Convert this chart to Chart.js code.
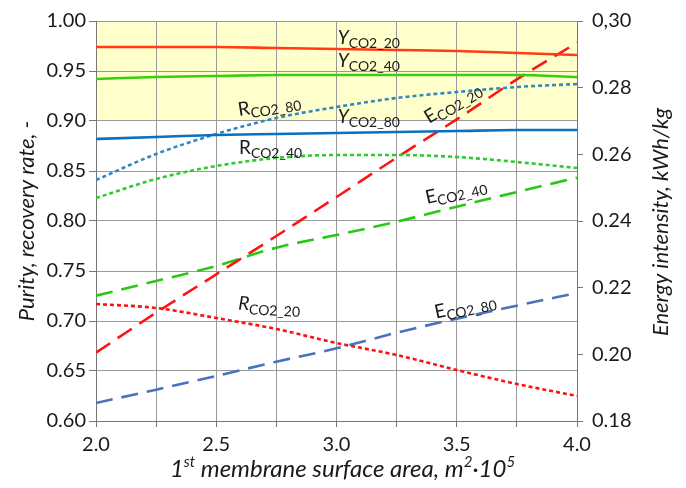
<!DOCTYPE html>
<html>
<head>
<meta charset="utf-8">
<script src="https://cdn.jsdelivr.net/npm/chart.js@4.4.0/dist/chart.umd.min.js"></script>
<style>
    html, body { margin: 0; padding: 0; background: #fff; }
</style>
</head>
<body>
<canvas id="chart" width="686" height="488"></canvas>
<script>
// membrane area, m2*10^5
const areas = [2.0, 2.25, 2.5, 2.75, 3.0, 3.25, 3.5, 3.75, 4.0];

// purity (left axis)
const yCO2_20 = [0.974, 0.974, 0.974, 0.973, 0.972, 0.971, 0.970, 0.968, 0.966];
const yCO2_40 = [0.942, 0.944, 0.945, 0.946, 0.946, 0.946, 0.946, 0.946, 0.944];
const yCO2_80 = [0.882, 0.884, 0.886, 0.887, 0.888, 0.889, 0.890, 0.891, 0.891];

// recovery rate (left axis)
const rCO2_80 = [0.841, 0.867, 0.887, 0.903, 0.914, 0.923, 0.929, 0.934, 0.937];
const rCO2_40 = [0.823, 0.842, 0.855, 0.863, 0.866, 0.866, 0.864, 0.859, 0.853];
const rCO2_20 = [0.717, 0.713, 0.703, 0.692, 0.678, 0.666, 0.651, 0.637, 0.625];

// energy intensity (right axis)
const eCO2_20 = [0.2005, 0.2125, 0.2240, 0.2355, 0.2472, 0.2590, 0.2705, 0.2825, 0.2935];
const eCO2_40 = [0.2176, 0.2220, 0.2265, 0.2320, 0.2358, 0.2398, 0.2443, 0.2487, 0.2530];
const eCO2_80 = [0.1854, 0.1894, 0.1935, 0.1978, 0.2018, 0.2065, 0.2107, 0.2146, 0.2184];

const rightTickLabels = ['0.18', '0.20', '0.22', '0.24', '0.26', '0.28', '0,30'];

// curve captions, anchored in data units
const curveLabels = [
    { main: 'Y', sub: 'CO2_20', x: 3.005, y: 0.977, angle: 0, italic: true },
    { main: 'Y', sub: 'CO2_40', x: 3.005, y: 0.9545, angle: 0, italic: true },
    { main: 'Y', sub: 'CO2_80', x: 3.005, y: 0.898, angle: 0, italic: true },
    { main: 'R', sub: 'CO2_80', x: 2.595, y: 0.905, angle: -9, italic: false },
    { main: 'R', sub: 'CO2_40', x: 2.595, y: 0.8666, angle: 0, italic: false },
    { main: 'R', sub: 'CO2_20', x: 2.59, y: 0.7114, angle: 3, italic: true },
    { main: 'E', sub: 'CO2_20', x: 3.385, y: 0.897, angle: -31, italic: false },
    { main: 'E', sub: 'CO2_40', x: 3.376, y: 0.817, angle: -13, italic: false },
    { main: 'E', sub: 'CO2_80', x: 3.414, y: 0.7025, angle: -12, italic: false }
];

const FONT = 'Lato, "Open Sans", sans-serif';
const TEXT = '#1a1a1a';

function pts(values) {
    return values.map((v, i) => ({ x: areas[i], y: v }));
}

function line(label, values, color, dash, axis) {
    return {
        label: label,
        data: pts(values),
        borderColor: color,
        backgroundColor: color,
        borderWidth: 2.6,
        borderDash: dash,
        pointRadius: 0,
        cubicInterpolationMode: 'monotone',
        yAxisID: axis
    };
}

// draws text pieces one after another, with sub/superscripts
function richWidth(ctx, parts) {
    let w = 0;
    parts.forEach(p => {
        ctx.font = (p.italic ? 'italic ' : '') + p.size + 'px ' + FONT;
        w += ctx.measureText(p.text).width;
    });
    return w;
}

function drawRich(ctx, x, y, angle, parts, center) {
    ctx.save();
    ctx.translate(x, y);
    ctx.rotate(angle * Math.PI / 180);
    ctx.fillStyle = TEXT;
    ctx.textBaseline = 'alphabetic';
    ctx.textAlign = 'left';
    let cx = center ? -richWidth(ctx, parts) / 2 : 0;
    parts.forEach(p => {
        ctx.font = (p.italic ? 'italic ' : '') + p.size + 'px ' + FONT;
        ctx.fillText(p.text, cx, p.dy || 0);
        cx += ctx.measureText(p.text).width;
    });
    ctx.restore();
}

const decorPlugin = {
    id: 'decor',
    beforeDraw(chart) {
        const ctx = chart.ctx;
        const area = chart.chartArea;
        const y = chart.scales.y;
        const top = y.getPixelForValue(1.0);
        const bottom = y.getPixelForValue(0.9);
        ctx.save();
        ctx.fillStyle = '#ffffcc';
        ctx.fillRect(area.left, top, area.right - area.left, bottom - top);
        ctx.restore();
    },
    afterDatasetsDraw(chart) {
        const ctx = chart.ctx;
        const xs = chart.scales.x;
        const ys = chart.scales.y;
        curveLabels.forEach(l => {
            drawRich(ctx, xs.getPixelForValue(l.x), ys.getPixelForValue(l.y), l.angle, [
                { text: l.main, size: 19, italic: l.italic },
                { text: l.sub, size: 14, dy: 4 }
            ]);
        });
    },
    afterDraw(chart) {
        const ctx = chart.ctx;
        const area = chart.chartArea;
        const cx = (area.left + area.right) / 2;
        const cy = (area.top + area.bottom) / 2;
        drawRich(ctx, cx + 6, 477, 0, [
            { text: '1', size: 24, italic: true },
            { text: 'st', size: 15, italic: true, dy: -10 },
            { text: ' membrane surface area, m', size: 24, italic: true },
            { text: '2', size: 15, italic: true, dy: -10 },
            { text: '\u00b710', size: 24, italic: true },
            { text: '5', size: 15, italic: true, dy: -10 }
        ], true);
        drawRich(ctx, 34, cy, -90, [
            { text: 'Purity, recovery rate, -', size: 22, italic: true }
        ], true);
        drawRich(ctx, 668, cy + 1, -90, [
            { text: 'Energy intensity, kWh/kg', size: 22, italic: true }
        ], true);
    }
};

const tickFont = { family: FONT, size: 20 };

const config = {
    type: 'line',
    data: {
        datasets: [
            line('Y CO2_20', yCO2_20, '#ff3c14', [], 'y'),
            line('Y CO2_40', yCO2_40, '#3ccc14', [], 'y'),
            line('Y CO2_80', yCO2_80, '#0a70c0', [], 'y'),
            line('R CO2_80', rCO2_80, '#2f88c4', [4, 3], 'y'),
            line('R CO2_40', rCO2_40, '#2ccc2c', [4, 3], 'y'),
            line('R CO2_20', rCO2_20, '#ff1010', [4, 3], 'y'),
            line('E CO2_20', eCO2_20, '#ff1414', [17, 9], 'y2'),
            line('E CO2_40', eCO2_40, '#28c814', [17, 9], 'y2'),
            line('E CO2_80', eCO2_80, '#4a72c0', [17, 9], 'y2')
        ]
    },
    options: {
        responsive: false,
        animation: false,
        layout: {
            padding: { top: 17, left: 0, right: 0, bottom: 0 }
        },
        plugins: {
            legend: { display: false },
            tooltip: { enabled: false }
        },
        scales: {
            x: {
                type: 'linear',
                min: 2.0,
                max: 4.0,
                afterFit: (s) => { s.height = 67; },
                ticks: {
                    stepSize: 0.25,
                    autoSkip: false,
                    maxRotation: 0,
                    padding: 6,
                    color: TEXT,
                    font: tickFont,
                    callback: (v) => (Math.abs(v * 2 - Math.round(v * 2)) < 1e-6 ? v.toFixed(1) : '')
                },
                grid: { color: '#9a9a9a', tickLength: 6, tickColor: '#777' },
                border: { color: '#777' }
            },
            y: {
                position: 'left',
                min: 0.6,
                max: 1.0,
                afterFit: (s) => { s.width = 96; },
                ticks: {
                    stepSize: 0.05,
                    padding: 3,
                    color: TEXT,
                    font: tickFont,
                    callback: (v) => v.toFixed(2)
                },
                grid: { color: '#9a9a9a', tickLength: 7, tickColor: '#777' },
                border: { color: '#777' }
            },
            y2: {
                position: 'right',
                min: 0.18,
                max: 0.30,
                afterFit: (s) => { s.width = 109; },
                ticks: {
                    stepSize: 0.02,
                    padding: 9,
                    color: TEXT,
                    font: tickFont,
                    callback: (v, i) => rightTickLabels[i]
                },
                grid: { drawOnChartArea: false, tickLength: 6, tickColor: '#777' },
                border: { color: '#777' }
            }
        }
    },
    plugins: [decorPlugin]
};

window.onload = () => {
    new Chart(document.getElementById('chart').getContext('2d'), config);
};
</script>
</body>
</html>
